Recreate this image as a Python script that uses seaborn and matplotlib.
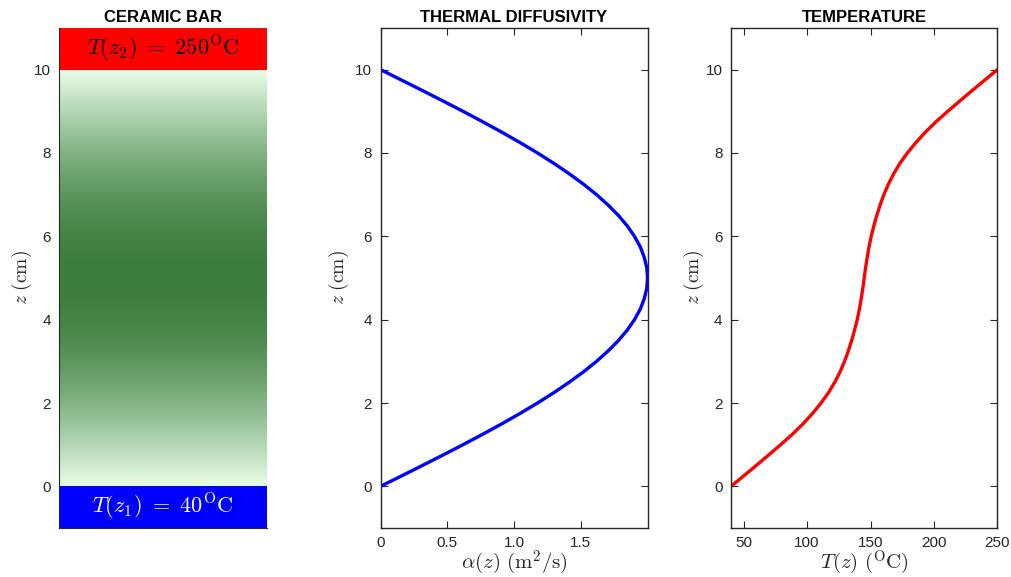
import numpy as np
import matplotlib
matplotlib.use('Agg')
import matplotlib.pyplot as plt
from matplotlib.colors import LinearSegmentedColormap
import seaborn as sns

# z positions along the bar (cm)
z_cm = [0.0, 0.25, 0.5, 0.75, 1.0, 1.25, 1.5, 1.75, 2.0, 2.25, 2.5, 2.75,
        3.0, 3.25, 3.5, 3.75, 4.0, 4.25, 4.5, 4.75, 5.0, 5.25, 5.5, 5.75,
        6.0, 6.25, 6.5, 6.75, 7.0, 7.25, 7.5, 7.75, 8.0, 8.25, 8.5, 8.75,
        9.0, 9.25, 9.5, 9.75, 10.0]

# thermal diffusivity alpha(z)
alpha_z = [0.0, 0.157, 0.313, 0.467, 0.618, 0.765, 0.908, 1.045, 1.176, 1.299,
           1.414, 1.521, 1.618, 1.705, 1.782, 1.848, 1.902, 1.945, 1.975, 1.994,
           2.0, 1.994, 1.975, 1.945, 1.902, 1.848, 1.782, 1.705, 1.618, 1.521,
           1.414, 1.299, 1.176, 1.045, 0.908, 0.765, 0.618, 0.467, 0.313, 0.157,
           0.0]

# temperature T(z)
temp_z = [40.0, 50.0, 59.9, 69.6, 79.2, 88.4, 96.8, 104.3, 111.0, 116.9,
          121.8, 126.0, 129.5, 132.5, 135.1, 137.4, 139.5, 141.2, 142.6, 143.9,
          145.0, 146.1, 147.4, 148.8, 150.5, 152.6, 154.9, 157.5, 160.5, 164.0,
          168.2, 173.1, 179.0, 185.7, 193.2, 201.6, 210.8, 220.4, 230.1, 240.0,
          250.0]

T_bottom = 40
T_top = 250
z_ticks = [0, 2, 4, 6, 8, 10]
alpha_ticks = [0, 0.5, 1.0, 1.5]
alpha_ticklabels = ['0', '0.5', '1.0', '1.5']
temp_ticks = [50, 100, 150, 200, 250]

sns.set_style('ticks')
plt.rcParams['font.family'] = ['Liberation Sans', 'DejaVu Sans']
plt.rcParams['mathtext.fontset'] = 'cm'
plt.rcParams['axes.edgecolor'] = '#262626'
plt.rcParams['xtick.color'] = '#262626'
plt.rcParams['ytick.color'] = '#262626'

fig = plt.figure(figsize=(10.11, 5.77), dpi=100)
ax1 = fig.add_axes([0.0584, 0.0849, 0.2057, 0.8666])
ax2 = fig.add_axes([0.3764, 0.0849, 0.2641, 0.8666])
ax3 = fig.add_axes([0.7230, 0.0849, 0.2636, 0.8666])

tick_fs = 11
label_fs = 15
title_kw = dict(fontsize=12, fontweight='bold', pad=4, color='black')

# ---- ceramic bar ----
green = LinearSegmentedColormap.from_list('bar', ['#e2f9e2', '#3c7e3e'])
ax1.imshow(np.array(alpha_z)[:, None], extent=[0, 1, 0, 10], origin='lower',
           aspect='auto', cmap=green, vmin=0, vmax=2, interpolation='bilinear')
ax1.barh(10.5, 1, height=1, left=0, color='#ff0000', edgecolor='none')
ax1.barh(-0.5, 1, height=1, left=0, color='#0000ff', edgecolor='none')
ax1.text(0.5, 10.5, r'$T(z_2)\ =\ %d^{\mathrm{O}}\mathrm{C}$' % T_top,
         ha='center', va='center', fontsize=16, color='black')
ax1.text(0.5, -0.5, r'$T(z_1)\ =\ %d^{\mathrm{O}}\mathrm{C}$' % T_bottom,
         ha='center', va='center', fontsize=16, color='white')
ax1.set_xlim(0, 1)
ax1.set_ylim(-1, 11)
ax1.set_xticks([])
ax1.set_yticks(z_ticks)
ax1.tick_params(axis='y', length=0, labelsize=tick_fs, pad=6)
for s in ['top', 'right']:
    ax1.spines[s].set_visible(False)
ax1.set_ylabel(r'$z\ (\mathrm{cm})$', fontsize=14, labelpad=0)
ax1.set_title('CERAMIC BAR', **title_kw)

# ---- thermal diffusivity ----
sns.lineplot(x=alpha_z, y=z_cm, sort=False, estimator=None, ax=ax2,
             color='#0000ff', lw=2.4)
ax2.set_xlim(0, 2)
ax2.set_ylim(-1, 11)
ax2.set_xticks(alpha_ticks)
ax2.set_xticklabels(alpha_ticklabels)
ax2.set_yticks(z_ticks)
ax2.set_xlabel(r'$\alpha(z)\ (\mathrm{m}^2/\mathrm{s})$', fontsize=label_fs, labelpad=-1)
ax2.set_ylabel(r'$z\ (\mathrm{cm})$', fontsize=14, labelpad=3)
ax2.set_title('THERMAL DIFFUSIVITY', **title_kw)

# ---- temperature ----
sns.lineplot(x=temp_z, y=z_cm, sort=False, estimator=None, ax=ax3,
             color='#ff0000', lw=2.4)
ax3.set_xlim(40, 250)
ax3.set_ylim(-1, 11)
ax3.set_xticks(temp_ticks)
ax3.set_yticks(z_ticks)
ax3.set_xlabel(r'$T(z)\ (^{\mathrm{O}}\mathrm{C})$', fontsize=label_fs, labelpad=-1)
ax3.set_ylabel(r'$z\ (\mathrm{cm})$', fontsize=14, labelpad=0)
ax3.set_title('TEMPERATURE', **title_kw)

for ax in (ax2, ax3):
    ax.tick_params(direction='in', top=True, right=True, length=5,
                   labelsize=tick_fs, pad=6)
    for s in ax.spines.values():
        s.set_linewidth(1.0)
    ax.grid(False)

fig.savefig('out.png', dpi=100)
